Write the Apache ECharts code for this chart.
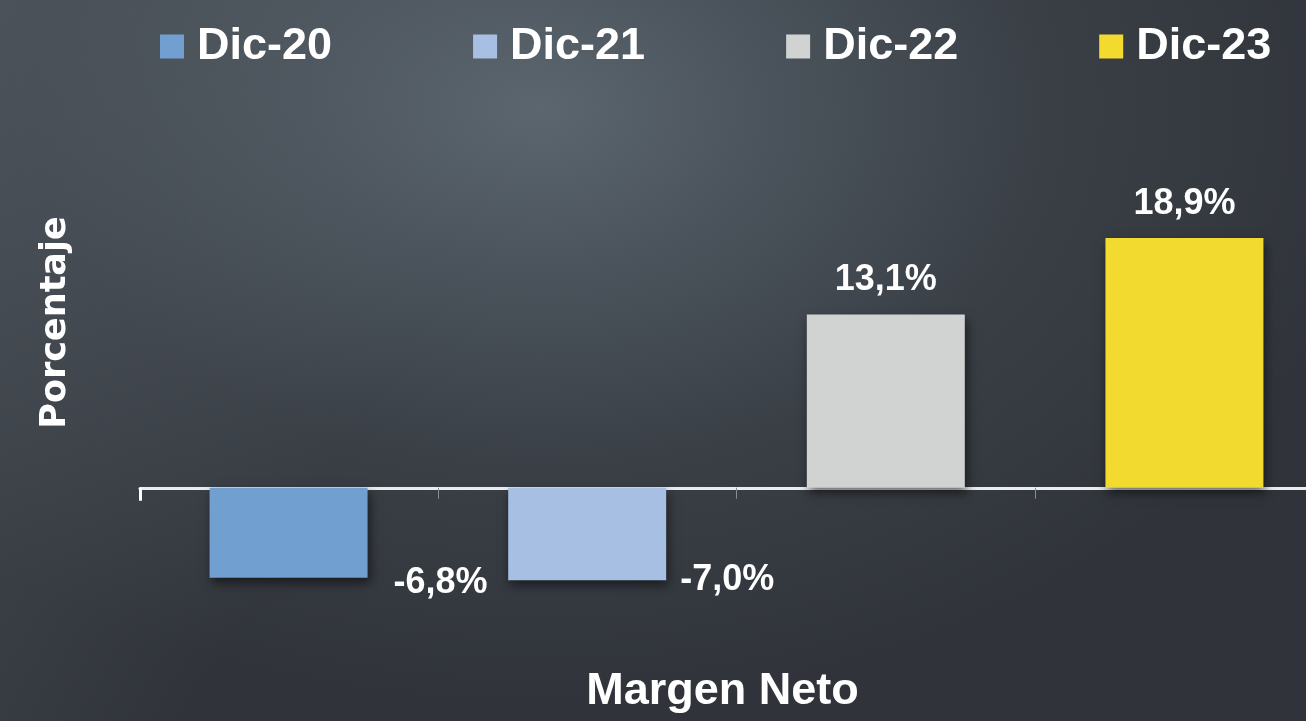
<!DOCTYPE html>
<html>
<head>
<meta charset="utf-8">
<script src="https://cdn.jsdelivr.net/npm/echarts@6/dist/echarts.min.js"></script>
<style>
  html, body { margin: 0; padding: 0; }
  body {
    width: 1306px; height: 721px; overflow: hidden;
    background:
      linear-gradient(120deg, rgba(110,120,128,0.35) 0%, rgba(110,120,128,0.0) 35%),
      radial-gradient(ellipse 850px 600px at 540px 110px, #5c666e 0%, #4a535b 28%, #3a3f46 60%, #30343a 100%);
  }
  #chart { width: 1306px; height: 721px; }
</style>
</head>
<body>
<div id="chart"></div>
<script>
// datos
const category = ['Margen Neto']
const years = ['Dic-20', 'Dic-21', 'Dic-22', 'Dic-23']
const values = [-6.8, -7.0, 13.1, 18.9]
const colors = ['#71a0d0', '#a6bfe2', '#d1d3d2', '#f2da2f']
const tickSlots = ['t1', 't2', 't3', 't4']

const fmt = v => v.toFixed(1).replace('.', ',') + '%'

// etiquetas negativas van a la derecha del bar
const labelOffsets = [[152, -13], [140, -18], [0, 0], [0, 0]]

let my_graph = echarts.init(document.getElementById('chart'))

let series = years.map((name, i) => ({
    name: name,
    type: 'bar',
    xAxisIndex: 0,
    data: [values[i]],
    barWidth: 158,
    barGap: '89%',
    itemStyle: {
        color: colors[i],
        shadowBlur: 10,
        shadowOffsetX: 2,
        shadowOffsetY: 5,
        shadowColor: 'rgba(0,0,0,0.55)'
    },
    label: {
        show: true,
        position: values[i] < 0 ? 'bottom' : 'top',
        distance: values[i] < 0 ? 0 : 16,
        offset: labelOffsets[i],
        formatter: p => fmt(p.value),
        color: '#ffffff',
        fontFamily: 'Liberation Sans',
        fontWeight: 'bold',
        fontSize: 36,
        lineHeight: 36
    }
}))

my_graph.setOption({
    backgroundColor: 'transparent',
    animation: false,
    legend: {
        data: years,
        left: 155,
        top: 19,
        icon: 'rect',
        itemWidth: 24,
        itemHeight: 24,
        itemGap: 141,
        textStyle: {
            color: '#ffffff',
            fontFamily: 'Liberation Sans',
            fontWeight: 'bold',
            fontSize: 45,
            padding: [0, 0, 0, 8]
        }
    },
    grid: {
        left: 140,
        top: 25,
        width: 1193,
        height: 595,
        outerBoundsMode: 'none'
    },
    xAxis: [{
        type: 'category',
        data: category,
        position: 'bottom',
        axisLine: { lineStyle: { color: '#ececec', width: 3 } },
        axisTick: { show: true, length: 13, lineStyle: { color: '#ffffff', width: 3 } },
        axisLabel: { show: false },
        splitLine: { show: false },
        name: 'Margen Neto',
        nameLocation: 'middle',
        nameGap: 49,
        nameTextStyle: {
            color: '#ffffff',
            fontFamily: 'Liberation Sans',
            fontWeight: 'bold',
            fontSize: 45,
            padding: [0, 28, 0, 0]
        }
    }, {
        // solo para las marcas grises del eje
        type: 'category',
        data: tickSlots,
        position: 'bottom',
        axisLine: { show: false, onZero: true, onZeroAxisIndex: 0 },
        axisTick: {
            show: true,
            length: 11,
            interval: (idx) => idx > 0,
            lineStyle: { color: '#8a8e94', width: 1 }
        },
        axisLabel: { show: false },
        splitLine: { show: false }
    }],
    yAxis: {
        type: 'value',
        min: -10,
        max: 35,
        axisLine: { show: false },
        axisTick: { show: false },
        axisLabel: { show: false },
        splitLine: { show: false },
        name: 'Porcentaje',
        nameLocation: 'middle',
        nameGap: 67,
        nameTextStyle: {
            color: '#ffffff',
            fontFamily: 'DejaVu Sans',
            fontWeight: 'bold',
            fontSize: 35
        }
    },
    series: series
})
</script>
</body>
</html>
